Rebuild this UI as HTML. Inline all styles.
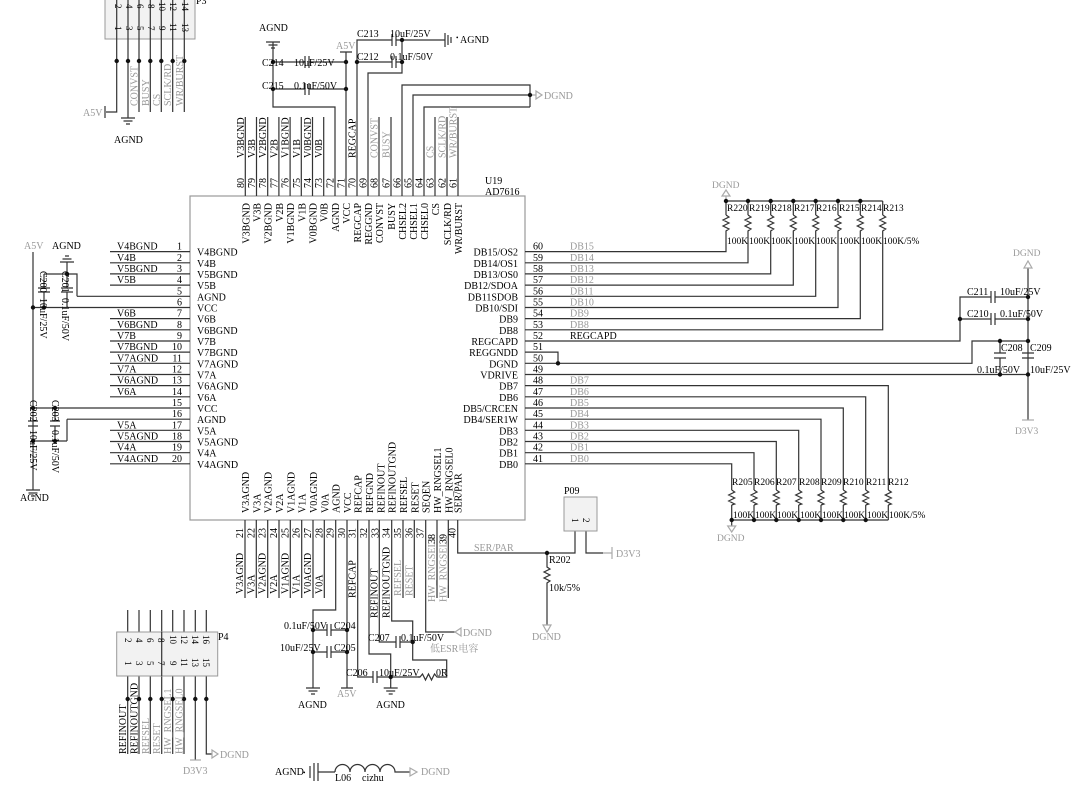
<!DOCTYPE html>
<html><head><meta charset="utf-8"><style>
html,body{margin:0;padding:0;background:#fff;}
svg{display:block;font-family:"Liberation Serif","Noto Serif CJK SC",serif;font-size:10px;}
.l{stroke:#333;stroke-width:1.2;fill:none}
.g{stroke:#aaa;stroke-width:1.2;fill:none}
.gt{fill:#999}
.d{fill:#111}
</style></head><body>
<svg width="1080" height="797" viewBox="0 0 1080 797">
<!-- main box -->
<rect x="190" y="196" width="335" height="324" fill="#fff" stroke="#999" stroke-width="1.2"/>
<text x="485" y="184">U19</text><text x="485" y="195">AD7616</text>

<!-- LEFT PINS -->
<g class="l">
<path d="M110 251.6H190M110 262.8H190M110 273.9H190M110 285.1H190M77 296.3H190M33 307.5H190M110 318.6H190M110 329.8H190M110 341H190M110 352.1H190M110 363.3H190M110 374.5H190M110 385.6H190M110 396.8H190M33 408H190M67 419.2H190M110 430.3H190M110 441.5H190M110 452.7H190M110 463.8H190"/>
<path d="M33 252V490M44 274V288M44 292V307.5M67 262V288M67 292V307.5M44 274H77V296.3"/>
<path d="M38 288H50M38 292H50M61 288H73M61 292H73"/>
<path d="M67 419.2V441M33 441H67M55 408V421M55 426V441M28 421H38M28 426H38M50 421H60M50 426H60"/>
<path d="M26 490H40M28.5 493H37.5M31 496H35"/>
<path d="M60 262H74M62.5 259H71.5M65 256H69"/>
</g>
<g class="d"><circle cx="33" cy="307.5" r="2.2"/><circle cx="44" cy="307.5" r="2.2"/><circle cx="67" cy="274" r="2.2"/><circle cx="33" cy="408" r="2.2"/><circle cx="55" cy="408" r="2.2"/><circle cx="33" cy="441" r="2.2"/><circle cx="55" cy="441" r="2.2"/></g>
<text x="24" y="249" class="gt">A5V</text><text x="52" y="249">AGND</text><text x="20" y="501">AGND</text>
<text transform="translate(40,271) rotate(90)">C200</text><text transform="translate(62,271) rotate(90)">C201</text>
<text transform="translate(40,298) rotate(90)">10uF/25V</text><text transform="translate(62,298) rotate(90)">0.1uF/50V</text>
<text transform="translate(30,400) rotate(90)">C202</text><text transform="translate(52,400) rotate(90)">C203</text>
<text transform="translate(30,430) rotate(90)">10uF/25V</text><text transform="translate(52,430) rotate(90)">0.1uF/50V</text>
<g>
<text x="117" y="249.6">V4BGND</text><text x="117" y="260.8">V4B</text><text x="117" y="271.9">V5BGND</text><text x="117" y="283.1">V5B</text>
<text x="117" y="316.6">V6B</text><text x="117" y="327.8">V6BGND</text><text x="117" y="339">V7B</text><text x="117" y="350.1">V7BGND</text><text x="117" y="361.3">V7AGND</text><text x="117" y="372.5">V7A</text><text x="117" y="383.6">V6AGND</text><text x="117" y="394.8">V6A</text>
<text x="117" y="428.3">V5A</text><text x="117" y="439.5">V5AGND</text><text x="117" y="450.7">V4A</text><text x="117" y="461.8">V4AGND</text>
</g>
<g text-anchor="end">
<text x="182" y="249.6">1</text><text x="182" y="260.8">2</text><text x="182" y="271.9">3</text><text x="182" y="283.1">4</text><text x="182" y="294.3">5</text><text x="182" y="305.5">6</text><text x="182" y="316.6">7</text><text x="182" y="327.8">8</text><text x="182" y="339">9</text><text x="182" y="350.1">10</text><text x="182" y="361.3">11</text><text x="182" y="372.5">12</text><text x="182" y="383.6">13</text><text x="182" y="394.8">14</text><text x="182" y="406">15</text><text x="182" y="417.2">16</text><text x="182" y="428.3">17</text><text x="182" y="439.5">18</text><text x="182" y="450.7">19</text><text x="182" y="461.8">20</text>
</g>
<g>
<text x="197" y="255.6">V4BGND</text><text x="197" y="266.8">V4B</text><text x="197" y="277.9">V5BGND</text><text x="197" y="289.1">V5B</text><text x="197" y="300.3">AGND</text><text x="197" y="311.5">VCC</text><text x="197" y="322.6">V6B</text><text x="197" y="333.8">V6BGND</text><text x="197" y="345">V7B</text><text x="197" y="356.1">V7BGND</text><text x="197" y="367.3">V7AGND</text><text x="197" y="378.5">V7A</text><text x="197" y="389.6">V6AGND</text><text x="197" y="400.8">V6A</text><text x="197" y="412">VCC</text><text x="197" y="423.2">AGND</text><text x="197" y="434.3">V5A</text><text x="197" y="445.5">V5AGND</text><text x="197" y="456.7">V4A</text><text x="197" y="467.8">V4AGND</text>
</g>

<!-- RIGHT PINS -->
<g class="l">
<path d="M525 251.6H726V232M525 262.8H748V232M525 273.9H770.7V232M525 285.1H793.3V232M525 296.3H815.7V232M525 307.5H838V232M525 318.6H860.3V232M525 329.8H882.7V232"/>
<path d="M525 341H960V297H991M995 297H1028M960 319H991M995 319H1028"/>
<path d="M991 291V303M995 291V303M991 313V325M995 313V325"/>
<path d="M525 352.1H558V363.3M525 363.3H972V341H1028M525 374.5H1028M1000 341V353M1000 358V374.5M994 353H1006M994 358H1006M1022 353H1034M1022 358H1034"/>
<path d="M1028 268V420"/>
<path d="M525 385.6H888.3V490M525 396.8H865.7V490M525 408H843.3V490M525 419.2H821V490M525 430.3H798.7V490M525 441.5H776.3V490M525 452.7H754V490M525 463.8H731.7V490"/>
<path d="M726 201H882.7M726 201V215M748 201V215M770.7 201V215M793.3 201V215M815.7 201V215M838 201V215M860.3 201V215M882.7 201V215"/>
<path d="M731.7 505V526M754 505V520M776.3 505V520M798.7 505V520M821 505V520M843.3 505V520M865.7 505V520M888.3 505V520M731.7 520H888.3"/>
</g>
<g class="l">
<path d="M726 215l3 2l-6 3l6 3l-6 3l6 3l-3 2v1M748 215l3 2l-6 3l6 3l-6 3l6 3l-3 2v1M770.7 215l3 2l-6 3l6 3l-6 3l6 3l-3 2v1M793.3 215l3 2l-6 3l6 3l-6 3l6 3l-3 2v1M815.7 215l3 2l-6 3l6 3l-6 3l6 3l-3 2v1M838 215l3 2l-6 3l6 3l-6 3l6 3l-3 2v1M860.3 215l3 2l-6 3l6 3l-6 3l6 3l-3 2v1M882.7 215l3 2l-6 3l6 3l-6 3l6 3l-3 2v1"/>
<path d="M731.7 490l3 2l-6 3l6 3l-6 3l6 3l-3 1M754 490l3 2l-6 3l6 3l-6 3l6 3l-3 1M776.3 490l3 2l-6 3l6 3l-6 3l6 3l-3 1M798.7 490l3 2l-6 3l6 3l-6 3l6 3l-3 1M821 490l3 2l-6 3l6 3l-6 3l6 3l-3 1M843.3 490l3 2l-6 3l6 3l-6 3l6 3l-3 1M865.7 490l3 2l-6 3l6 3l-6 3l6 3l-3 1M888.3 490l3 2l-6 3l6 3l-6 3l6 3l-3 1"/>
</g>
<g class="g"><path d="M726 201V196M722 196H730L726 190Z"/><path d="M1024 268H1032L1028 261Z"/><path d="M1022 420H1034"/><path d="M727.7 526H735.7L731.7 532Z"/></g>
<g class="d"><circle cx="726" cy="201" r="2.2"/><circle cx="748" cy="201" r="2.2"/><circle cx="770.7" cy="201" r="2.2"/><circle cx="793.3" cy="201" r="2.2"/><circle cx="815.7" cy="201" r="2.2"/><circle cx="838" cy="201" r="2.2"/><circle cx="860.3" cy="201" r="2.2"/>
<circle cx="731.7" cy="520" r="2.2"/><circle cx="754" cy="520" r="2.2"/><circle cx="776.3" cy="520" r="2.2"/><circle cx="798.7" cy="520" r="2.2"/><circle cx="821" cy="520" r="2.2"/><circle cx="843.3" cy="520" r="2.2"/><circle cx="865.7" cy="520" r="2.2"/>
<circle cx="558" cy="363.3" r="2.2"/><circle cx="960" cy="319" r="2.2"/><circle cx="1028" cy="297" r="2.2"/><circle cx="1028" cy="319" r="2.2"/><circle cx="1000" cy="341" r="2.2"/><circle cx="1028" cy="341" r="2.2"/><circle cx="1000" cy="374.5" r="2.2"/><circle cx="1028" cy="374.5" r="2.2"/></g>
<text x="712" y="188" class="gt" font-size="9.5">DGND</text>
<g font-size="9.5"><text x="727" y="211">R220</text><text x="749" y="211">R219</text><text x="771" y="211">R218</text><text x="794" y="211">R217</text><text x="816" y="211">R216</text><text x="839" y="211">R215</text><text x="861" y="211">R214</text><text x="883" y="211">R213</text>
<text x="727" y="244">100K</text><text x="749" y="244">100K</text><text x="771" y="244">100K</text><text x="794" y="244">100K</text><text x="816" y="244">100K</text><text x="839" y="244">100K</text><text x="861" y="244">100K</text><text x="883" y="244">100K/5%</text>
<text x="732" y="485">R205</text><text x="754" y="485">R206</text><text x="776" y="485">R207</text><text x="799" y="485">R208</text><text x="821" y="485">R209</text><text x="843" y="485">R210</text><text x="866" y="485">R211</text><text x="888" y="485">R212</text>
<text x="733" y="518">100K</text><text x="755" y="518">100K</text><text x="777" y="518">100K</text><text x="800" y="518">100K</text><text x="822" y="518">100K</text><text x="844" y="518">100K</text><text x="867" y="518">100K</text><text x="889" y="518">100K/5%</text></g>
<text x="717" y="541" class="gt" font-size="9.5">DGND</text>
<text x="1013" y="256" class="gt" font-size="9.5">DGND</text><text x="1015" y="434" class="gt" font-size="9.5">D3V3</text>
<text x="967" y="295">C211</text><text x="1000" y="295">10uF/25V</text><text x="967" y="317">C210</text><text x="1000" y="317">0.1uF/50V</text>
<text x="1001" y="351">C208</text><text x="1030" y="351">C209</text><text x="977" y="373">0.1uF/50V</text><text x="1030" y="373">10uF/25V</text>
<g>
<text x="533" y="249.6">60</text><text x="533" y="260.8">59</text><text x="533" y="271.9">58</text><text x="533" y="283.1">57</text><text x="533" y="294.3">56</text><text x="533" y="305.5">55</text><text x="533" y="316.6">54</text><text x="533" y="327.8">53</text><text x="533" y="339">52</text><text x="533" y="350.1">51</text><text x="533" y="361.3">50</text><text x="533" y="372.5">49</text><text x="533" y="383.6">48</text><text x="533" y="394.8">47</text><text x="533" y="406">46</text><text x="533" y="417.2">45</text><text x="533" y="428.3">44</text><text x="533" y="439.5">43</text><text x="533" y="450.7">42</text><text x="533" y="461.8">41</text>
</g>
<g class="gt">
<text x="570" y="249.6">DB15</text><text x="570" y="260.8">DB14</text><text x="570" y="271.9">DB13</text><text x="570" y="283.1">DB12</text><text x="570" y="294.3">DB11</text><text x="570" y="305.5">DB10</text><text x="570" y="316.6">DB9</text><text x="570" y="327.8">DB8</text>
<text x="570" y="383.6">DB7</text><text x="570" y="394.8">DB6</text><text x="570" y="406">DB5</text><text x="570" y="417.2">DB4</text><text x="570" y="428.3">DB3</text><text x="570" y="439.5">DB2</text><text x="570" y="450.7">DB1</text><text x="570" y="461.8">DB0</text>
</g>
<text x="570" y="339">REGCAPD</text>
<g text-anchor="end">
<text x="518" y="255.6">DB15/OS2</text><text x="518" y="266.8">DB14/OS1</text><text x="518" y="277.9">DB13/OS0</text><text x="518" y="289.1">DB12/SDOA</text><text x="518" y="300.3">DB11SDOB</text><text x="518" y="311.5">DB10/SDI</text><text x="518" y="322.6">DB9</text><text x="518" y="333.8">DB8</text><text x="518" y="345">REGCAPD</text><text x="518" y="356.1">REGGNDD</text><text x="518" y="367.3">DGND</text><text x="518" y="378.5">VDRIVE</text><text x="518" y="389.6">DB7</text><text x="518" y="400.8">DB6</text><text x="518" y="412">DB5/CRCEN</text><text x="518" y="423.2">DB4/SER1W</text><text x="518" y="434.3">DB3</text><text x="518" y="445.5">DB2</text><text x="518" y="456.7">DB1</text><text x="518" y="467.8">DB0</text>
</g>

<!-- TOP PINS -->
<g class="l">
<path d="M245.3 196V117M256.5 196V117M267.7 196V117M278.9 196V117M290.1 196V117M301.3 196V117M312.5 196V117M323.7 196V117"/>
<path d="M335 196V107H273V42M346 196V52M357 196V40H392M396 40H445M368 196V73H402V40M379 196V117M391 196V117"/>
<path d="M402 196V85H530V107M413 196V95H530M424 196V107H530M435 196V117M447 196V117M458 196V117"/>
<path d="M273 62H305M309 62H346M273 89H305M309 89H346M305 56V68M309 56V68M305 83V95M309 83V95"/>
<path d="M357 62H392M396 62H402M392 34V46M396 34V46M392 56V68M396 56V68"/>
<path d="M266 42H280M268.5 45H277.5M271 48H275M340 52H352"/>
<path d="M445 33V47M448 35V45M451 37V43"/>
</g>
<path class="g" d="M530 95H536M536 91V99L542 95Z"/>
<g class="d"><circle cx="273" cy="62" r="2.2"/><circle cx="346" cy="62" r="2.2"/><circle cx="273" cy="89" r="2.2"/><circle cx="346" cy="89" r="2.2"/><circle cx="357" cy="62" r="2.2"/><circle cx="402" cy="40" r="2.2"/><circle cx="402" cy="62" r="2.2"/><circle cx="530" cy="95" r="2.2"/></g>
<text x="259" y="31">AGND</text><text x="336" y="49" class="gt">A5V</text>
<text x="262" y="66">C214</text><text x="294" y="66">10uF/25V</text><text x="262" y="89">C215</text><text x="294" y="89">0.1uF/50V</text>
<text x="357" y="37">C213</text><text x="390" y="37">10uF/25V</text><text x="357" y="60">C212</text><text x="390" y="60">0.1uF/50V</text>
<text x="460" y="43">AGND</text><text x="456" y="40" font-size="7">•</text>
<text x="544" y="99" class="gt">DGND</text>
<g>
<text transform="translate(243.8,158) rotate(-90)">V3BGND</text><text transform="translate(255,158) rotate(-90)">V3B</text><text transform="translate(266.2,158) rotate(-90)">V2BGND</text><text transform="translate(277.4,158) rotate(-90)">V2B</text><text transform="translate(288.6,158) rotate(-90)">V1BGND</text><text transform="translate(299.8,158) rotate(-90)">V1B</text><text transform="translate(311,158) rotate(-90)">V0BGND</text><text transform="translate(322.2,158) rotate(-90)">V0B</text>
<text transform="translate(355.5,158) rotate(-90)">REGCAP</text><text class="gt" transform="translate(377.5,158) rotate(-90)">CONVST</text><text class="gt" transform="translate(389.5,158) rotate(-90)">BUSY</text><text class="gt" transform="translate(433.5,158) rotate(-90)">CS</text><text class="gt" transform="translate(445.5,158) rotate(-90)">SCLK/RD</text><text class="gt" transform="translate(456.5,158) rotate(-90)">WR/BURST</text>
</g>
<g>
<text transform="translate(243.8,188) rotate(-90)">80</text><text transform="translate(255,188) rotate(-90)">79</text><text transform="translate(266.2,188) rotate(-90)">78</text><text transform="translate(277.4,188) rotate(-90)">77</text><text transform="translate(288.6,188) rotate(-90)">76</text><text transform="translate(299.8,188) rotate(-90)">75</text><text transform="translate(311,188) rotate(-90)">74</text><text transform="translate(322.2,188) rotate(-90)">73</text><text transform="translate(333.5,188) rotate(-90)">72</text><text transform="translate(344.5,188) rotate(-90)">71</text><text transform="translate(355.5,188) rotate(-90)">70</text><text transform="translate(366.5,188) rotate(-90)">69</text><text transform="translate(377.5,188) rotate(-90)">68</text><text transform="translate(389.5,188) rotate(-90)">67</text><text transform="translate(400.5,188) rotate(-90)">66</text><text transform="translate(411.5,188) rotate(-90)">65</text><text transform="translate(422.5,188) rotate(-90)">64</text><text transform="translate(433.5,188) rotate(-90)">63</text><text transform="translate(445.5,188) rotate(-90)">62</text><text transform="translate(456.5,188) rotate(-90)">61</text>
</g>
<g text-anchor="end">
<text transform="translate(249.3,203) rotate(-90)">V3BGND</text><text transform="translate(260.5,203) rotate(-90)">V3B</text><text transform="translate(271.7,203) rotate(-90)">V2BGND</text><text transform="translate(282.9,203) rotate(-90)">V2B</text><text transform="translate(294.1,203) rotate(-90)">V1BGND</text><text transform="translate(305.3,203) rotate(-90)">V1B</text><text transform="translate(316.5,203) rotate(-90)">V0BGND</text><text transform="translate(327.7,203) rotate(-90)">V0B</text><text transform="translate(339,203) rotate(-90)">AGND</text><text transform="translate(350,203) rotate(-90)">VCC</text><text transform="translate(361,203) rotate(-90)">REGCAP</text><text transform="translate(372,203) rotate(-90)">REGGND</text><text transform="translate(383,203) rotate(-90)">CONVST</text><text transform="translate(395,203) rotate(-90)">BUSY</text><text transform="translate(406,203) rotate(-90)">CHSEL2</text><text transform="translate(417,203) rotate(-90)">CHSEL1</text><text transform="translate(428,203) rotate(-90)">CHSEL0</text><text transform="translate(439,203) rotate(-90)">CS</text><text transform="translate(451,203) rotate(-90)">SCLK/RD</text><text transform="translate(462,203) rotate(-90)">WR/BURST</text>
</g>

<!-- BOTTOM PINS -->
<g class="l">
<path d="M245 520V598M256.3 520V598M267.7 520V598M279 520V598M290.3 520V598M301.7 520V598M313 520V598M324.3 520V598"/>
<path d="M335.7 520V610H313V688M347 520V688M357.7 520V677H373M377 677H446.7V660H412.7V621H391.7V520M369 520V654H390.7V688M379.3 520V642H396M400 642H412.7"/>
<path d="M403 520V598M414.3 520V598M425.7 520V632H455M437 520V598M448.3 520V598M457.7 520V553H575V531M586 531V553H603"/>
<path d="M313 630H327M331 630H347M313 652H327M331 652H347M327 624V636M331 624V636M327 646V658M331 646V658"/>
<path d="M373 671V683M377 671V683M396 636V648M400 636V648"/>
<path d="M306 688H320M308.5 691H317.5M311 694H315M383.7 688H397.7M386.2 691H395.2M388.7 694H392.7M341 688H353"/>
<path d="M547 553V567l3 2l-6 3l6 3l-6 3l6 3l-3 2V625"/>
</g>
<rect x="420" y="673" width="18" height="8" fill="#fff"/>
<path class="l" d="M418 677H420l2.5 -3l3 6l3 -6l3 6l3 -6l2.5 3H440"/>
<g class="g"><path d="M455 632L461 628V636Z"/><path d="M603 553H612M612 547V559"/><path d="M543 625H551L547 632Z"/></g>
<rect x="564" y="497" width="33" height="34" fill="#f2f2f2" stroke="#999"/>
<text x="564" y="494">P09</text>
<text transform="translate(572,518) rotate(90)" font-size="9">1</text><text transform="translate(583,518) rotate(90)" font-size="9">2</text>
<g class="d"><circle cx="313" cy="630" r="2.2"/><circle cx="347" cy="630" r="2.2"/><circle cx="313" cy="652" r="2.2"/><circle cx="347" cy="652" r="2.2"/><circle cx="390.7" cy="677" r="2.2"/><circle cx="412.7" cy="642" r="2.2"/><circle cx="547" cy="553" r="2.2"/></g>
<text x="284" y="629">0.1uF/50V</text><text x="334" y="629">C204</text><text x="280" y="651">10uF/25V</text><text x="334" y="651">C205</text>
<text x="346" y="676">C206</text><text x="379" y="676">10uF/25V</text><text x="436" y="676">0R</text>
<text x="368" y="641">C207</text><text x="401" y="641">0.1uF/50V</text>
<text x="430" y="652" class="gt">低ESR电容</text>
<text x="463" y="636" class="gt">DGND</text>
<text x="298" y="708">AGND</text><text x="376" y="708">AGND</text><text x="337" y="697" class="gt">A5V</text>
<text x="474" y="551" class="gt">SER/PAR</text><text x="616" y="557" class="gt">D3V3</text>
<text x="549" y="563">R202</text><text x="549" y="591">10k/5%</text><text x="532" y="640" class="gt">DGND</text>
<g>
<text transform="translate(243,594) rotate(-90)">V3AGND</text><text transform="translate(254.3,594) rotate(-90)">V3A</text><text transform="translate(265.7,594) rotate(-90)">V2AGND</text><text transform="translate(277,594) rotate(-90)">V2A</text><text transform="translate(288.3,594) rotate(-90)">V1AGND</text><text transform="translate(299.7,594) rotate(-90)">V1A</text><text transform="translate(311,594) rotate(-90)">V0AGND</text><text transform="translate(322.3,594) rotate(-90)">V0A</text>
<text transform="translate(355.7,598) rotate(-90)">REFCAP</text><text transform="translate(377.3,618) rotate(-90)">REFINOUT</text><text transform="translate(389.7,618) rotate(-90)">REFINOUTGND</text><text class="gt" transform="translate(401,596) rotate(-90)">REFSEL</text><text class="gt" transform="translate(412.3,596) rotate(-90)">RESET</text><text class="gt" transform="translate(435,602) rotate(-90)">HW_RNGSEL1</text><text class="gt" transform="translate(446.3,602) rotate(-90)">HW_RNGSEL0</text>
</g>
<g>
<text transform="translate(243,538) rotate(-90)">21</text><text transform="translate(254.3,538) rotate(-90)">22</text><text transform="translate(265.7,538) rotate(-90)">23</text><text transform="translate(277,538) rotate(-90)">24</text><text transform="translate(288.3,538) rotate(-90)">25</text><text transform="translate(299.7,538) rotate(-90)">26</text><text transform="translate(311,538) rotate(-90)">27</text><text transform="translate(322.3,538) rotate(-90)">28</text><text transform="translate(333.7,538) rotate(-90)">29</text><text transform="translate(345,538) rotate(-90)">30</text><text transform="translate(355.7,538) rotate(-90)">31</text><text transform="translate(367,538) rotate(-90)">32</text><text transform="translate(378.3,538) rotate(-90)">33</text><text transform="translate(389.7,538) rotate(-90)">34</text><text transform="translate(401,538) rotate(-90)">35</text><text transform="translate(412.3,538) rotate(-90)">36</text><text transform="translate(423.7,538) rotate(-90)">37</text><text transform="translate(435,544) rotate(-90)">38</text><text transform="translate(446.3,544) rotate(-90)">39</text><text transform="translate(455.7,538) rotate(-90)">40</text>
</g>
<g>
<text transform="translate(249,513) rotate(-90)">V3AGND</text><text transform="translate(260.3,513) rotate(-90)">V3A</text><text transform="translate(271.7,513) rotate(-90)">V2AGND</text><text transform="translate(283,513) rotate(-90)">V2A</text><text transform="translate(294.3,513) rotate(-90)">V1AGND</text><text transform="translate(305.7,513) rotate(-90)">V1A</text><text transform="translate(317,513) rotate(-90)">V0AGND</text><text transform="translate(328.3,513) rotate(-90)">V0A</text><text transform="translate(339.7,513) rotate(-90)">AGND</text><text transform="translate(351,513) rotate(-90)">VCC</text><text transform="translate(361.7,513) rotate(-90)">REFCAP</text><text transform="translate(373,513) rotate(-90)">REFGND</text><text transform="translate(384.3,513) rotate(-90)">REFINOUT</text><text transform="translate(395.7,513) rotate(-90)">REFINOUTGND</text><text transform="translate(407,513) rotate(-90)">REFSEL</text><text transform="translate(418.3,513) rotate(-90)">RESET</text><text transform="translate(429.7,513) rotate(-90)">SEQEN</text><text transform="translate(441,513) rotate(-90)">HW_RNGSEL1</text><text transform="translate(452.3,513) rotate(-90)">HW_RNGSEL0</text><text transform="translate(461.7,513) rotate(-90)">SER/PAR</text>
</g>

<!-- P3 -->
<rect x="105" y="-2" width="90" height="41" fill="#f2f2f2" stroke="#999"/>
<text x="196" y="4">P3</text>
<g class="l"><path d="M116.7 -2V112H106M105 106V118M128 -2V118M139 -2V112M150.3 -2V112M161.3 -2V112M172.7 -2V112M184.3 -2V112"/><path d="M121 118H135M123.5 121H132.5M126 124H130"/></g>
<g class="d"><circle cx="116.7" cy="61" r="2.2"/><circle cx="128" cy="61" r="2.2"/><circle cx="139" cy="61" r="2.2"/><circle cx="150.3" cy="61" r="2.2"/><circle cx="161.3" cy="61" r="2.2"/><circle cx="172.7" cy="61" r="2.2"/><circle cx="184.3" cy="61" r="2.2"/></g>
<g font-size="9"><text transform="translate(115,4) rotate(90)">2</text><text transform="translate(126,4) rotate(90)">4</text><text transform="translate(137,4) rotate(90)">6</text><text transform="translate(148,4) rotate(90)">8</text><text transform="translate(159,2) rotate(90)">10</text><text transform="translate(170,2) rotate(90)">12</text><text transform="translate(182,2) rotate(90)">14</text>
<text transform="translate(115,26) rotate(90)">1</text><text transform="translate(126,26) rotate(90)">3</text><text transform="translate(137,26) rotate(90)">5</text><text transform="translate(148,26) rotate(90)">7</text><text transform="translate(159,26) rotate(90)">9</text><text transform="translate(170,23) rotate(90)">11</text><text transform="translate(182,23) rotate(90)">13</text></g>
<g class="gt"><text transform="translate(137.5,106) rotate(-90)">CONVST</text><text transform="translate(148.8,106) rotate(-90)">BUSY</text><text transform="translate(159.8,106) rotate(-90)">CS</text><text transform="translate(171.2,106) rotate(-90)">SCLK/RD</text><text transform="translate(182.8,106) rotate(-90)">WR/BURST</text></g>
<text x="83" y="116" class="gt">A5V</text><text x="114" y="143">AGND</text>

<!-- P4 -->
<g class="l"><path d="M127.7 610V754M139 610V754M150.3 610V754M161.7 610V754M172.7 610V754M184 610V754M195.3 610V760M206.3 610V754H212"/></g>
<rect x="116.7" y="632" width="101" height="44" fill="#f2f2f2" stroke="#999"/>
<path d="M161.7 632V676" class="l"/>
<g class="g"><path d="M190 760H201"/><path d="M212 750V758L218 754Z"/></g>
<text x="218" y="640">P4</text>
<g font-size="9"><text transform="translate(125,638) rotate(90)">2</text><text transform="translate(136,638) rotate(90)">4</text><text transform="translate(147,638) rotate(90)">6</text><text transform="translate(158,638) rotate(90)">8</text><text transform="translate(170,635) rotate(90)">10</text><text transform="translate(181,635) rotate(90)">12</text><text transform="translate(192,635) rotate(90)">14</text><text transform="translate(203,635) rotate(90)">16</text>
<text transform="translate(125,661) rotate(90)">1</text><text transform="translate(136,661) rotate(90)">3</text><text transform="translate(147,661) rotate(90)">5</text><text transform="translate(158,661) rotate(90)">7</text><text transform="translate(170,661) rotate(90)">9</text><text transform="translate(181,658) rotate(90)">11</text><text transform="translate(192,658) rotate(90)">13</text><text transform="translate(203,658) rotate(90)">15</text></g>
<g class="d"><circle cx="127.7" cy="699" r="2.2"/><circle cx="139" cy="699" r="2.2"/><circle cx="150.3" cy="699" r="2.2"/><circle cx="161.7" cy="699" r="2.2"/><circle cx="172.7" cy="699" r="2.2"/><circle cx="184" cy="699" r="2.2"/><circle cx="195.3" cy="699" r="2.2"/><circle cx="206.3" cy="699" r="2.2"/></g>
<text transform="translate(126,754) rotate(-90)">REFINOUT</text><text transform="translate(137.5,754) rotate(-90)">REFINOUTGND</text>
<g class="gt"><text transform="translate(148.8,754) rotate(-90)">REFSEL</text><text transform="translate(160.2,754) rotate(-90)">RESET</text><text transform="translate(171.2,754) rotate(-90)">HW_RNGSEL1</text><text transform="translate(182.5,754) rotate(-90)">HW_RNGSEL0</text></g>
<text x="220" y="758" class="gt">DGND</text><text x="183" y="774" class="gt">D3V3</text>

<!-- L06 -->
<text x="275" y="775">AGND</text><text x="303" y="775" font-size="7">•</text>
<g class="l"><path d="M310 766V778M314 763V781M318 763V781M318 772H335"/>
<path d="M335 772a7.5 7.5 0 0 1 15 0a7.5 7.5 0 0 1 15 0a7.5 7.5 0 0 1 15 0a7.5 7.5 0 0 1 15 0H410"/></g>
<path class="g" d="M410 768V776L417 772Z"/>
<text x="421" y="775" class="gt">DGND</text>
<text x="335" y="781">L06</text><text x="362" y="781">cizhu</text>
</svg>
</body></html>
